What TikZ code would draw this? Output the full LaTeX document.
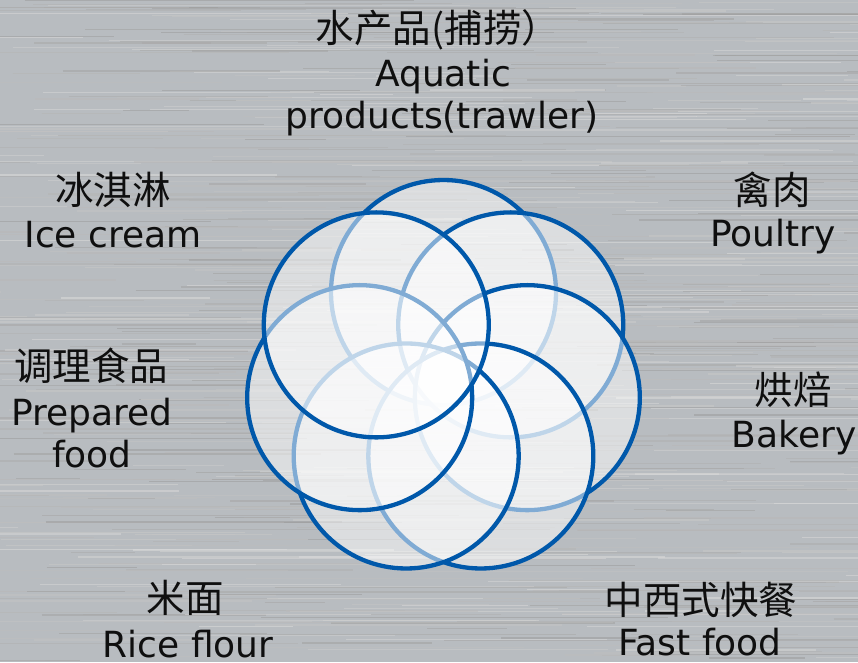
\documentclass[tikz,border=0pt]{standalone}
\usepackage{fontspec}
\setmainfont{DejaVu Sans}
\newfontfamily\cjk{Noto Sans CJK SC}
\usetikzlibrary{calc}
\definecolor{ringblue}{RGB}{0,88,170}
\definecolor{bgray}{RGB}{184,188,192}
\definecolor{txt}{RGB}{15,15,15}
\tikzset{
  ring/.style={circle, minimum size=225pt, inner sep=0pt, draw=ringblue, line width=4.3pt, fill=white, fill opacity=0.5},
  lat/.style={anchor=base, inner sep=0pt, text=txt, font=\fontsize{36}{43}\selectfont},
  cjkt/.style={anchor=base, inner sep=0pt, text=txt, font=\cjk\fontsize{38.5}{44}\selectfont},
}
\begin{document}
\begin{tikzpicture}[x=1pt,y=1pt]
\useasboundingbox (0,0) rectangle (858,-662);
\fill[bgray] (0,0) rectangle (858,-662);
\begin{scope}
\clip (0,0) rectangle (858,-662);
\pgfmathsetseed{7}
\foreach \i in {1,...,700}{
  \pgfmathsetmacro{\yy}{-rnd*662}
  \pgfmathsetmacro{\xs}{rnd*958-100}
  \pgfmathsetmacro{\len}{60+rnd*400}
  \pgfmathsetmacro{\gg}{int(14+rnd*26)}
  \pgfmathsetmacro{\lw}{0.4+rnd*1.4}
  \draw[line width=\lw pt, draw=black!\gg!white, opacity=0.55] (\xs,\yy) -- ++(\len,0);
}
\end{scope}
\coordinate (C) at (443.5,-378.5);
\foreach \k in {0,...,6}{
  \node[ring] (c\k) at ($(C)+({90-\k*360/7}:86)$) {};
}
% labels
\node[cjkt] (aqcn) at (438,-42.5) {水产品(捕捞）};
\node[lat] (aq1) at (443,-86) {Aquatic};
\node[lat] (aq2) at (442,-128) {products(trawler)};
\node[cjkt] (iccn) at (113,-204.5) {冰淇淋};
\node[lat] (ic) at (113,-247) {Ice cream};
\node[cjkt] (pocn) at (772,-204.5) {禽肉};
\node[lat] (po) at (773,-246) {Poultry};
\node[cjkt] (prcn) at (91,-380.5) {调理食品};
\node[lat] (pr1) at (92,-425) {Prepared};
\node[lat] (pr2) at (92,-467) {food};
\node[cjkt] (bacn) at (793,-404.5) {烘焙};
\node[lat] (ba) at (794,-447) {Bakery};
\node[cjkt] (ricn) at (185,-612.5) {米面};
\node[lat] (ri) at (188,-657) {Rice flour};
\node[cjkt] (facn) at (701,-614.5) {中西式快餐};
\node[lat] (fa) at (700,-655.5) {Fast food};
\end{tikzpicture}
\end{document}
